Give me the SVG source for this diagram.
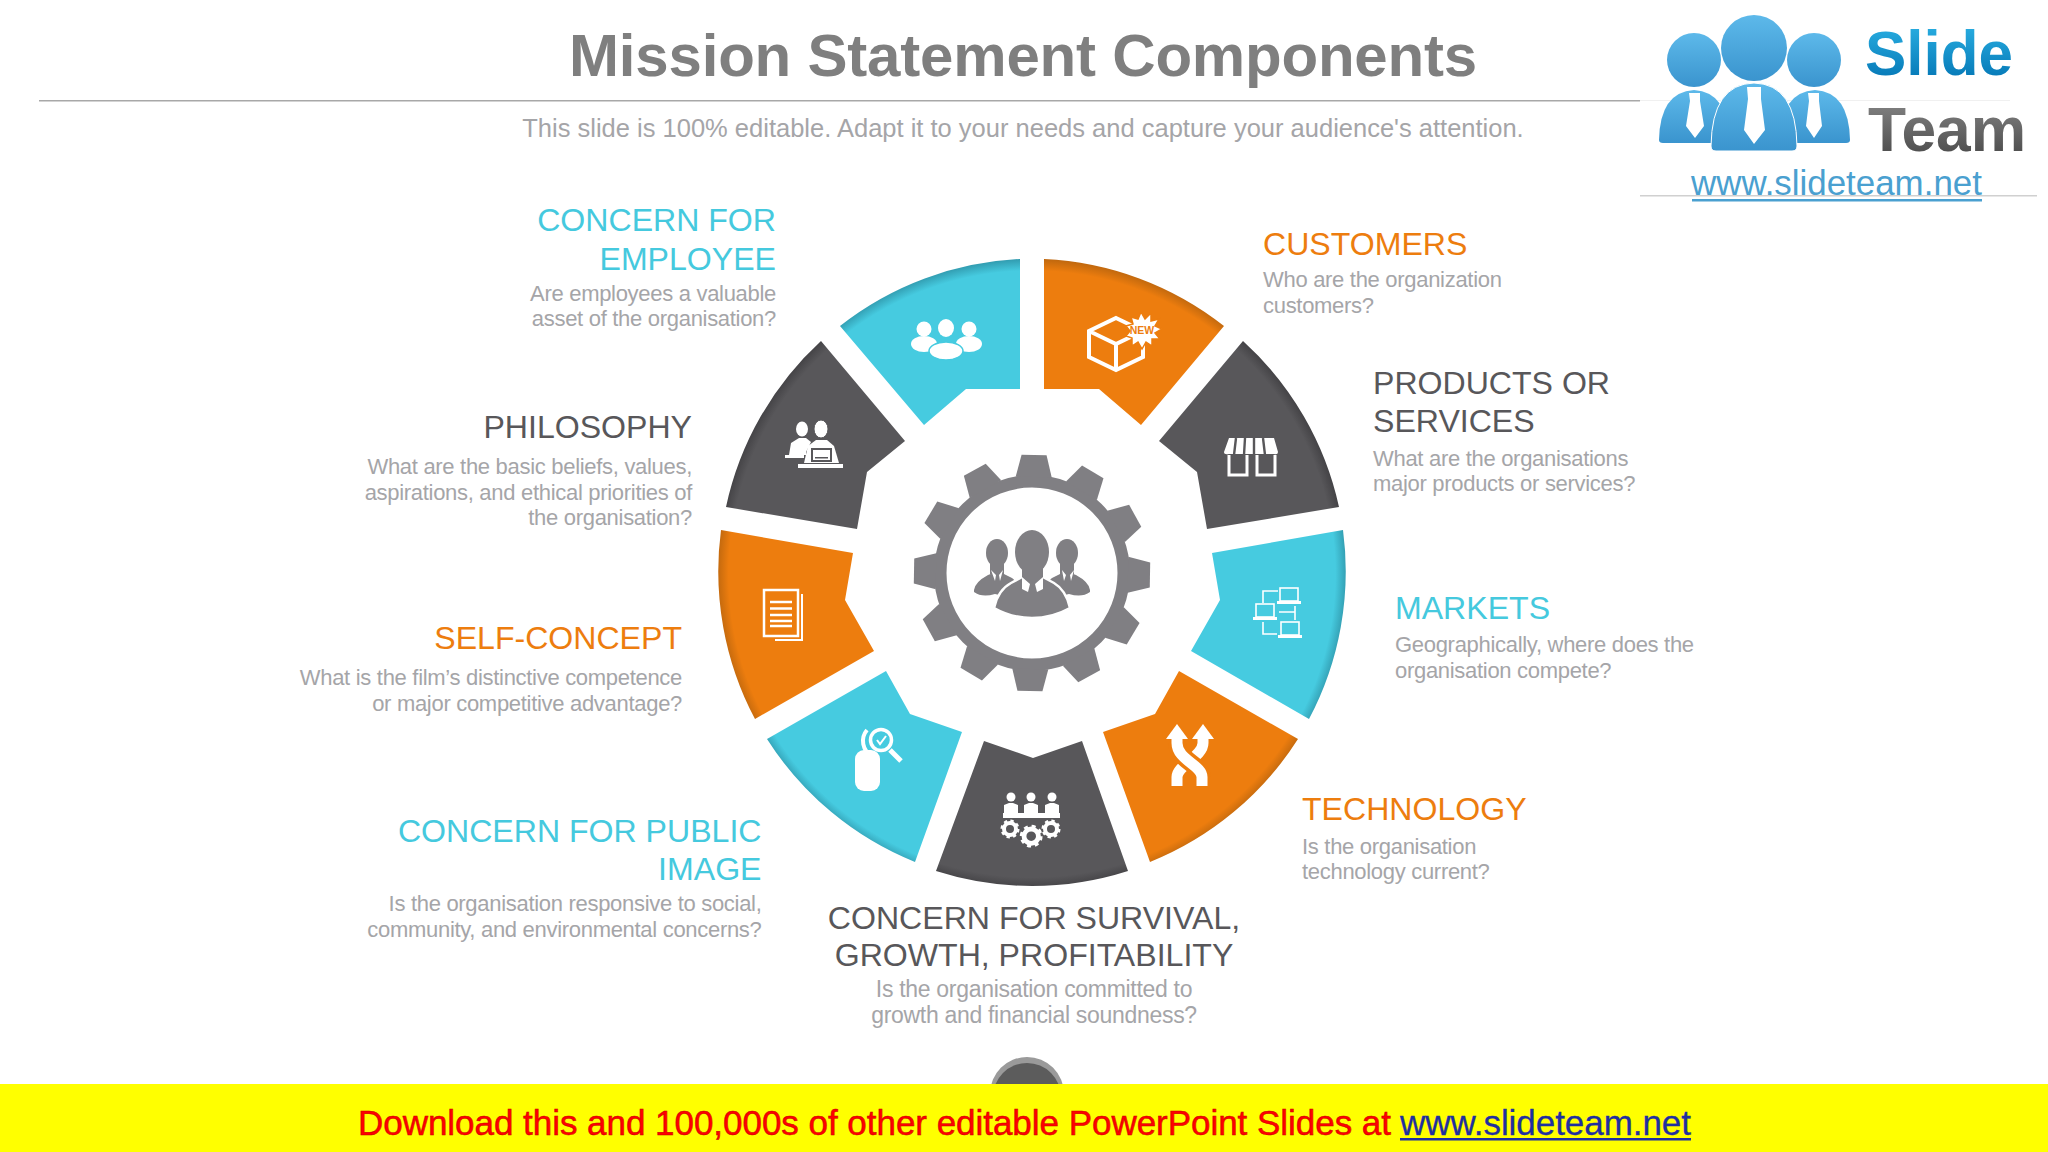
<svg xmlns="http://www.w3.org/2000/svg" xmlns:xlink="http://www.w3.org/1999/xlink" width="2048" height="1152" viewBox="0 0 2048 1152">
<style>
text{font-family:"Liberation Sans",Arial,sans-serif}
.h{font-size:32.1px}
.b{font-size:22px;fill:#A5A5A8;letter-spacing:-.3px}
.bl{font-size:23px}
.r{text-anchor:end}.m{text-anchor:middle}
.tb{fill:#45C9DE}.to{fill:#ED7D0E}.td{fill:#58575A}
.w{fill:#fff}.ws{fill:none;stroke:#fff;stroke-width:3}
.g{fill:#807F83}
</style>
<defs>
<radialGradient id="go" gradientUnits="userSpaceOnUse" cx="1032" cy="574" r="316"><stop offset=".96" stop-color="#ED7D0E"/><stop offset="1" stop-color="#BC660E"/></radialGradient>
<radialGradient id="gb" gradientUnits="userSpaceOnUse" cx="1032" cy="574" r="316"><stop offset=".96" stop-color="#46CBE0"/><stop offset="1" stop-color="#3098AC"/></radialGradient>
<radialGradient id="gd" gradientUnits="userSpaceOnUse" cx="1032" cy="574" r="316"><stop offset=".96" stop-color="#58575A"/><stop offset="1" stop-color="#414043"/></radialGradient>
<linearGradient id="lsl" x1="0" y1="0" x2="0" y2="1"><stop offset="0" stop-color="#2DB4E6"/><stop offset="1" stop-color="#0070B0"/></linearGradient>
<linearGradient id="lte" x1="0" y1="0" x2="0" y2="1"><stop offset="0" stop-color="#8A8A8A"/><stop offset="1" stop-color="#444"/></linearGradient>
<linearGradient id="lpe" x1="0" y1="0" x2="0" y2="1"><stop offset="0" stop-color="#5DB9EA"/><stop offset="1" stop-color="#3A94CE"/></linearGradient>
<polygon id="tooth" class="g" points="-12.5,-118 12.5,-118 18,-96 -18,-96"/>
<g id="laptop"><rect x="-9" y="-8" width="18" height="13" fill="none" stroke="#fff" stroke-width="1.6"/><rect x="-12" y="5" width="24" height="3" fill="#fff"/></g>
<g id="cog"><circle r="6" fill="none" stroke="#fff" stroke-width="4"/><circle r="8" fill="none" stroke="#fff" stroke-width="3" stroke-dasharray="3.2 3.1"/></g>
</defs>
<rect width="2048" height="1152" fill="#fff"/>

<g id="header">
<text x="1023" y="76" class="m" font-size="60" font-weight="700" fill="#7F7F7F" letter-spacing="-.2">Mission Statement Components</text>
<rect x="39" y="100" width="1601" height="1.5" fill="#A8A8A8"/>
<text x="1023" y="137" class="m" font-size="25.5" fill="#A5A5A8">This slide is 100% editable. Adapt it to your needs and capture your audience's attention.</text>
</g>

<g id="logo">
<rect x="1640" y="100" width="370" height="1" fill="#F0F0F0"/>
<rect x="1640" y="195" width="397" height="1.5" fill="#D0D0D0"/>
<path d="M1659,140 Q1660,92 1694,90 Q1728,92 1729,140 Q1729,143 1725,143 L1663,143 Q1659,143 1659,140Z" fill="url(#lpe)"/>
<path d="M1780,140 Q1781,92 1815,90 Q1849,92 1850,140 Q1850,143 1846,143 L1784,143 Q1780,143 1780,140Z" fill="url(#lpe)"/>
<path d="M1711,146 Q1712,84 1754,83 Q1796,84 1797,146 Q1797,151 1792,151 L1716,151 Q1711,151 1711,146Z" fill="url(#lpe)" stroke="#fff" stroke-width="1"/>
<circle cx="1694" cy="60" r="27" fill="url(#lpe)"/>
<circle cx="1814" cy="60" r="27" fill="url(#lpe)"/>
<circle cx="1754" cy="48" r="33" fill="url(#lpe)"/>
<path class="w" d="M1689,93H1700V101L1704,126L1695,138L1686,126L1690,101Z"/>
<path class="w" d="M1808,93H1819V101L1822,126L1814,138L1806,126L1809,101Z"/>
<path class="w" d="M1747,87H1761V99L1765,130L1754,144L1744,130L1748,99Z"/>
<text x="1865" y="75" font-size="63" font-weight="700" fill="url(#lsl)" textLength="148" lengthAdjust="spacingAndGlyphs">Slide</text>
<text x="1868" y="151" font-size="63" font-weight="700" fill="url(#lte)" textLength="158" lengthAdjust="spacingAndGlyphs">Team</text>
<text x="1691" y="195" font-size="34.9" fill="#4AA0D0">www.slideteam.net</text>
<rect x="1692" y="199" width="290" height="2.5" fill="#4AA0D0"/>
</g>

<g id="wheel">
<g id="seg-employee"><path d="M1020,259 L1020,389 L966,389 L924,425 L840,326 A315,315 0 0 1 1020,259Z" fill="url(#gb)"/>
<circle cx="924" cy="329" r="7.5" class="w"/><circle cx="969" cy="329" r="7.5" class="w"/><ellipse cx="924" cy="344" rx="13" ry="8" class="w"/><ellipse cx="969" cy="344" rx="13" ry="8" class="w"/><ellipse cx="946" cy="328" rx="8" ry="9" class="w"/><ellipse cx="946" cy="351" rx="17" ry="9" class="w" stroke="#46CBE0" stroke-width="1.5"/></g>
<g id="seg-customers"><path d="M1044,259 A315,315 0 0 1 1224,326 L1141,425 L1099,389 L1044,389Z" fill="url(#go)"/>
<path d="M1116,318L1143,331V357L1116,370L1089,357V331ZM1089,331L1116,344L1143,331M1116,344V370" fill="none" stroke="#fff" stroke-width="4"/>
<polygon class="w" stroke="#ED7D0E" stroke-width="1.5" points="1141,312 1145,319 1151,313 1151,321 1159,319 1155,326 1162,329 1155,333 1160,339 1152,339 1152,346 1146,342 1142,349 1138,342 1132,346 1132,338 1126,336 1130,331 1126,326 1133,324 1131,317 1138,319"/>
<text x="1142" y="334" class="m" font-size="10.5" font-weight="700" fill="#ED7D0E">NEW</text></g>
<g id="seg-products"><path d="M1243,341 A315,315 0 0 1 1339,507 L1207,529 L1197,472 L1159,441Z" fill="url(#gd)"/>
<path class="w" d="M1229,438H1274L1278,452Q1278,455 1274,454H1229Q1224,455 1224,452Z"/>
<path d="M1236,438L1234,455M1245,438L1244,455M1254,438L1254,455M1263,438L1265,455" stroke="#58575A" stroke-width="2.4"/>
<path class="ws" d="M1229,455V475H1247V455M1257,455V475H1275V455"/></g>
<g id="seg-markets"><path d="M1343,530 A315,315 0 0 1 1309,719 L1191,651 L1220,600 L1212,553Z" fill="url(#gb)"/>
<use xlink:href="#laptop" href="#laptop" x="1289" y="596"/><use xlink:href="#laptop" href="#laptop" x="1265" y="612"/><use xlink:href="#laptop" href="#laptop" x="1290" y="630"/>
<path d="M1263,603V591H1278M1279,612H1295M1295,606V620M1263,622V634H1277" fill="none" stroke="#fff" stroke-width="1.6"/></g>
<g id="seg-technology"><path d="M1298,739 A315,315 0 0 1 1150,862 L1103,732 L1155,714 L1179,671Z" fill="url(#go)"/>
<path d="M1203,735V743C1203,757 1177,765 1177,777V786" fill="none" stroke="#fff" stroke-width="11"/>
<path d="M1177,735V743C1177,760 1202,765 1202,777V786" fill="none" stroke="#ED7D0E" stroke-width="18"/>
<path d="M1177,735V743C1177,760 1202,765 1202,777V786" fill="none" stroke="#fff" stroke-width="11"/>
<polygon class="w" points="1177,724 1188,739 1166,739"/><polygon class="w" points="1203,724 1214,739 1192,739"/></g>
<g id="seg-survival"><path d="M1128,871 A315,315 0 0 1 936,871 L984,741 L1033,758 L1082,741Z" fill="url(#gd)"/>
<circle cx="1011" cy="797" r="4.5" class="w"/><circle cx="1031" cy="797" r="4.5" class="w"/><circle cx="1052" cy="797" r="4.5" class="w"/>
<path class="w" d="M1004,813V805L1009,803H1013L1018,805V813ZM1024,813V805L1029,803H1033L1038,805V813ZM1045,813V805L1050,803H1054L1059,805V813Z"/>
<rect x="1003" y="813" width="57" height="5" class="w"/>
<use xlink:href="#cog" href="#cog" x="1010" y="829"/><use xlink:href="#cog" href="#cog" x="1031" y="836" transform="translate(-206 -167) scale(1.2)"/><use xlink:href="#cog" href="#cog" x="1051" y="829"/></g>
<g id="seg-public"><path d="M915,862 A315,315 0 0 1 767,739 L886,671 L910,714 L962,732Z" fill="url(#gb)"/>
<rect x="855" y="750" width="25" height="41" rx="9" class="w"/>
<circle cx="881" cy="740" r="10.5" fill="none" stroke="#fff" stroke-width="3.500"/>
<path d="M867,730A17,17 0 0 0 872,756" fill="none" stroke="#fff" stroke-width="4"/>
<path d="M890,750L901,761" stroke="#fff" stroke-width="5"/>
<path d="M877,740L880,744L886,736" fill="none" stroke="#fff" stroke-width="2"/></g>
<g id="seg-self"><path d="M755,719 A315,315 0 0 1 721,530 L853,553 L845,600 L874,651Z" fill="url(#go)"/>
<rect x="764" y="590" width="34" height="46" fill="none" stroke="#fff" stroke-width="2.5"/>
<path d="M802,594V640H775" fill="none" stroke="#fff" stroke-width="2"/>
<path d="M770,602H792M770,608.500H792M770,615H792M770,621H792M770,626H792" stroke="#fff" stroke-width="2.600"/></g>
<g id="seg-philosophy"><path d="M821,341 L905,441 L867,472 L857,529 L726,507 A315,315 0 0 1 821,341Z" fill="url(#gd)"/>
<ellipse cx="802" cy="429" rx="6" ry="7.500" class="w"/><path class="w" d="M789,455L791,443L799,438H806L811,442L806,452V455Z"/><rect x="785" y="455" width="19" height="3" class="w"/>
<ellipse cx="821" cy="429" rx="7" ry="9" class="w" stroke="#58575A" stroke-width="1"/><path class="w" d="M804,463L808,446L816,440H827L834,446L839,463Z"/><rect x="811" y="448" width="21" height="14" fill="#58575A"/><rect x="813" y="450" width="17" height="10" class="w"/><rect x="815" y="457" width="13" height="1.500" fill="#58575A"/><rect x="798" y="464" width="45" height="4" class="w"/></g>
<g id="hub">
<circle cx="1032" cy="573" r="91.750" fill="none" stroke="#807F83" stroke-width="12.500"/>
<g transform="translate(1032 573)"><use xlink:href="#tooth" href="#tooth" transform="rotate(1)"/><use xlink:href="#tooth" href="#tooth" transform="rotate(31)"/><use xlink:href="#tooth" href="#tooth" transform="rotate(61)"/><use xlink:href="#tooth" href="#tooth" transform="rotate(91)"/><use xlink:href="#tooth" href="#tooth" transform="rotate(121)"/><use xlink:href="#tooth" href="#tooth" transform="rotate(151)"/><use xlink:href="#tooth" href="#tooth" transform="rotate(181)"/><use xlink:href="#tooth" href="#tooth" transform="rotate(211)"/><use xlink:href="#tooth" href="#tooth" transform="rotate(241)"/><use xlink:href="#tooth" href="#tooth" transform="rotate(271)"/><use xlink:href="#tooth" href="#tooth" transform="rotate(301)"/><use xlink:href="#tooth" href="#tooth" transform="rotate(331)"/></g>
<ellipse cx="997" cy="553" rx="11" ry="14" class="g"/><ellipse cx="1067" cy="553" rx="11" ry="14" class="g"/>
<rect x="990" y="560" width="14" height="14" class="g"/><rect x="1060" y="560" width="14" height="14" class="g"/>
<path class="g" d="M974,590Q975,582 988,575L996,572H1000L1012,578Q1018,582 1020,600L995,594Q982,598 974,592Z"/>
<path class="g" d="M1090,590Q1089,582 1076,575L1068,572H1064L1052,578Q1046,582 1044,600L1069,594Q1082,598 1090,592Z"/>
<path class="g" stroke="#fff" stroke-width="2.500" d="M994,608Q998,590 1011,583L1024,576H1041L1054,583Q1066,590 1070,608Q1052,618 1032,618Q1012,618 994,608Z"/>
<ellipse cx="1032" cy="552" rx="17" ry="22" class="g"/><rect x="1022" y="565" width="21" height="15" class="g"/>
<path class="w" d="M1022,577L1030,584L1028,592L1022,589ZM1043,577L1035,584L1037,592L1043,589Z"/>
<path class="w" d="M991,570L996,575L995,581ZM1003,570L999,575L1000,581ZM1062,570L1066,575L1064,581ZM1074,570L1070,575L1071,581Z"/>
</g>
</g>

<g id="labels">
<g id="l-employee"><text x="776" y="231" class="h r tb">CONCERN FOR</text><text x="776" y="270" class="h r tb">EMPLOYEE</text><text x="776" y="301" class="b r">Are employees a valuable</text><text x="776" y="326" class="b r">asset of the organisation?</text></g>
<g id="l-customers"><text x="1263" y="255" class="h to">CUSTOMERS</text><text x="1263" y="287" class="b">Who are the organization</text><text x="1263" y="313" class="b">customers?</text></g>
<g id="l-products"><text x="1373" y="394" class="h td">PRODUCTS OR</text><text x="1373" y="432" class="h td">SERVICES</text><text x="1373" y="466" class="b">What are the organisations</text><text x="1373" y="491" class="b">major products or services?</text></g>
<g id="l-markets"><text x="1395" y="619" class="h tb">MARKETS</text><text x="1395" y="652" class="b">Geographically, where does the</text><text x="1395" y="678" class="b">organisation compete?</text></g>
<g id="l-technology"><text x="1302" y="820" class="h to">TECHNOLOGY</text><text x="1302" y="854" class="b">Is the organisation</text><text x="1302" y="879" class="b">technology current?</text></g>
<g id="l-survival"><text x="1034" y="929" class="h m td">CONCERN FOR SURVIVAL,</text><text x="1034" y="966" class="h m td">GROWTH, PROFITABILITY</text><text x="1034" y="997" class="b bl m">Is the organisation committed to</text><text x="1034" y="1023" class="b bl m">growth and financial soundness?</text></g>
<g id="l-public"><text x="761.500" y="842" class="h r tb">CONCERN FOR PUBLIC</text><text x="761.500" y="880" class="h r tb">IMAGE</text><text x="761.500" y="911" class="b r">Is the organisation responsive to social,</text><text x="761.500" y="937" class="b r">community, and environmental concerns?</text></g>
<g id="l-self"><text x="682" y="649" class="h r to">SELF-CONCEPT</text><text x="682" y="684.500" class="b r">What is the film’s distinctive competence</text><text x="682" y="710.500" class="b r">or major competitive advantage?</text></g>
<g id="l-philosophy"><text x="692" y="438" class="h r td">PHILOSOPHY</text><text x="692" y="474" class="b r">What are the basic beliefs, values,</text><text x="692" y="500" class="b r">aspirations, and ethical priorities of</text><text x="692" y="525" class="b r">the organisation?</text></g>
</g>

<g id="footer">
<circle cx="1027" cy="1094" r="37" fill="#9A9A9A"/><circle cx="1027" cy="1097" r="34" fill="#5C5C5C"/>
<rect y="1084" width="2048" height="68" fill="#FF0"/>
<text x="358" y="1134.500" font-size="35" fill="#F00" stroke="#C80000" stroke-width=".5" textLength="1033">Download this and 100,000s of other editable PowerPoint Slides at</text>
<text x="1400" y="1134.500" font-size="35" fill="#1F2FA0" stroke="#1F2FA0" stroke-width=".3" textLength="291">www.slideteam.net</text>
<rect x="1400" y="1138" width="291" height="2.500" fill="#1F2FA0"/>
</g>
</svg>
